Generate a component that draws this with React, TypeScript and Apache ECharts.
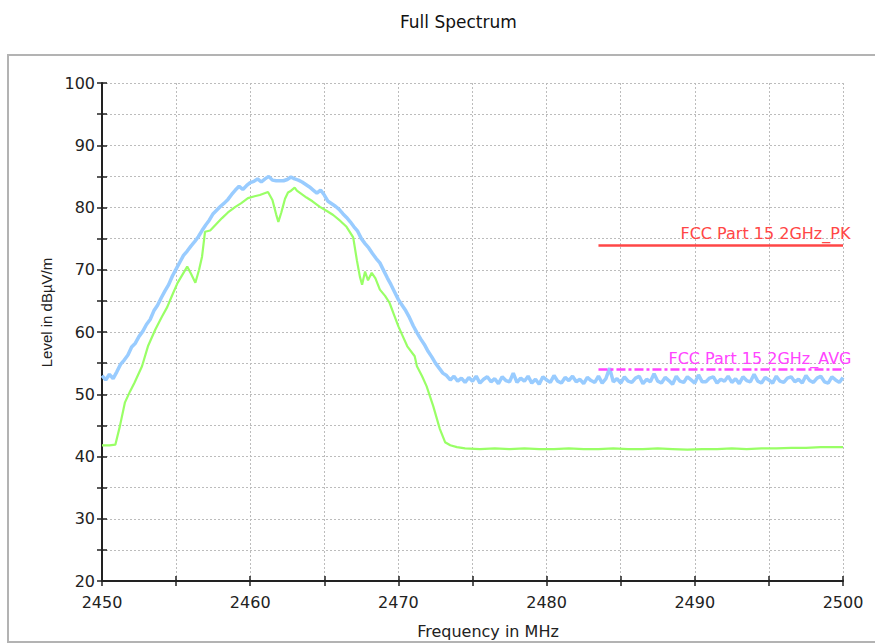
import React, { useEffect, useRef } from "react";
import * as echarts from "echarts";

const chartTitle = "Full Spectrum";
const xAxisTitle = "Frequency in MHz";
const yAxisTitle = "Level in dB\u00b5V/m";

const freqMin = 2450;
const freqMax = 2500;
const levelMin = 20;
const levelMax = 100;

// Peak trace (blue), sweep starting at 2450 MHz with a 0.25 MHz step
const blueStart = 2450;
const blueStep = 0.25;
const blueLevels = [
  53.0, 52.3, 53.2, 52.5, 53.6, 54.8, 55.5, 56.3, 57.6, 58.2,
  59.3, 60.1, 61.2, 62.0, 63.4, 64.3, 65.5, 66.6, 67.6, 69.0,
  70.1, 71.2, 72.3, 73.0, 73.8, 74.5, 75.3, 76.3, 77.2, 78.0,
  79.0, 79.6, 80.2, 80.7, 81.3, 82.1, 82.8, 83.4, 82.9, 83.5,
  84.0, 84.2, 84.6, 84.1, 84.6, 85.0, 84.4, 84.3, 84.3, 84.3,
  84.5, 84.9, 84.6, 84.4, 84.1, 83.7, 83.3, 82.8, 82.3, 82.8,
  82.0, 81.0, 80.6, 80.2, 79.7, 79.0, 78.4, 77.7, 76.9, 76.2,
  75.0, 74.2, 73.5, 72.6, 71.8, 71.1, 69.9, 68.7, 67.6, 66.4,
  65.2, 64.3, 63.4, 62.3, 61.0, 59.9, 58.9, 58.0, 56.9, 56.0,
  55.0, 54.2, 53.4, 53.0, 52.3, 52.9, 52.1,
  52.6, 51.9, 52.7, 52.1, 52.9, 51.8, 52.4, 52.8, 52.0, 52.5,
  51.7, 52.8, 52.2, 52.0, 53.4, 51.9, 52.6, 52.1, 52.9, 51.8,
  52.4, 51.6, 52.8, 52.3, 51.9, 53.0, 52.1, 51.8, 52.7, 52.2,
  52.9, 52.0, 52.4, 51.7, 52.7, 52.2, 51.9, 52.9, 51.8, 52.5,
  54.2, 52.0, 52.5, 51.8, 52.8, 52.1, 51.9, 52.6, 52.9, 51.7,
  52.4, 52.0, 53.3, 52.1, 51.8, 52.7, 52.2, 51.6, 52.9, 52.1,
  51.9, 52.8, 52.3, 51.8, 53.1, 52.0, 52.0, 52.6, 52.8, 51.8,
  52.4, 52.1, 52.9, 51.9, 52.5, 51.7, 52.8, 52.2, 52.0, 53.2,
  52.1, 51.8, 52.7, 52.3, 51.8, 52.9, 52.1, 51.9, 52.6, 52.8,
  52.0, 52.4, 51.8, 53.0, 52.2, 51.9, 52.6, 52.9, 52.0, 51.8,
  52.8, 52.3, 51.9, 52.7,
];

// Average trace (green)
const greenFreq = [
  2450, 2450.5, 2450.9, 2451.2, 2451.55, 2451.9, 2452.2, 2452.7, 2453.1, 2453.6,
  2454.05, 2454.4, 2454.7, 2455.1, 2455.45, 2455.75, 2456.0, 2456.3, 2456.55, 2456.75,
  2456.95, 2457.3, 2457.7, 2458.1, 2458.5, 2459.0, 2459.4, 2459.85, 2460.3, 2460.65,
  2461.2, 2461.5, 2461.75, 2461.9, 2462.1, 2462.35, 2462.55, 2462.7, 2463.0, 2463.15,
  2463.8, 2464.2, 2464.7, 2465.2, 2465.6, 2466.1, 2466.5, 2466.95, 2467.2, 2467.4,
  2467.55, 2467.75, 2467.95, 2468.2, 2468.45, 2468.75, 2469.1, 2469.4, 2469.7, 2470.0,
  2470.3, 2470.6, 2471.1, 2471.25, 2471.6, 2471.9, 2472.35, 2472.8, 2473.15, 2473.5,
  2473.95, 2474.5, 2475.5, 2476.5, 2477.5, 2478.5, 2479.5, 2480.5, 2481.5, 2482.5,
  2483.5, 2484.5, 2485.5, 2486.5, 2487.5, 2488.5, 2489.5, 2490.5, 2491.5, 2492.5,
  2493.5, 2494.5, 2495.5, 2496.5, 2497.5, 2498.5, 2499.5, 2500,
];
const greenLevels = [
  41.8, 41.8, 41.9, 44.8, 48.7, 50.5, 51.9, 54.5, 57.7, 60.4,
  62.5, 64.0, 65.7, 67.9, 69.3, 70.5, 69.4, 67.9, 70.0, 72.1,
  76.1, 76.3, 77.3, 78.3, 79.2, 80.1, 80.7, 81.5, 81.8, 82.0,
  82.5, 81.2, 78.9, 77.7, 79.2, 81.4, 82.4, 82.6, 83.2, 82.7,
  81.6, 81.0, 80.1, 79.4, 78.8, 77.8, 76.9, 75.2, 71.5, 68.9,
  67.6, 69.7, 68.3, 69.5, 68.6, 66.8, 65.8, 64.7, 62.8, 60.9,
  59.3, 57.7, 56.1, 54.5, 52.9, 51.3, 48.1, 44.4, 42.3, 41.8,
  41.5, 41.3, 41.2, 41.3, 41.2, 41.3, 41.2, 41.2, 41.3, 41.2,
  41.2, 41.3, 41.2, 41.2, 41.3, 41.2, 41.1, 41.2, 41.2, 41.3,
  41.2, 41.3, 41.3, 41.4, 41.4, 41.5, 41.5, 41.5,
];

// Limit lines
const limitNames = ["FCC Part 15 2GHz_PK", "FCC Part 15 2GHz_AVG"];
const limitLevels = [74, 54];
const limitStart = [2483.5, 2483.5];
const limitEnd = [2500, 2500];

const FONT = "DejaVu Sans";
const AX = "#222222";
const GRID = "#bcbcbc";

export default function App() {
  const ref = useRef<HTMLDivElement>(null);

  useEffect(() => {
    if (!ref.current) return;
    const chart = echarts.init(ref.current, undefined, { renderer: "svg" });

    const blueData = blueLevels.map((v, i) => [blueStart + i * blueStep, v]);
    const greenData = greenFreq.map((f, i) => [f, greenLevels[i]]);

    const gridLine = { show: true, lineStyle: { color: GRID, type: [2, 2], width: 1 } };

    const mainAxis = (min: number, max: number, isX: boolean) => ({
      type: "value",
      min,
      max,
      interval: 10,
      position: isX ? "bottom" : "left",
      axisLine: { show: true, onZero: false, lineStyle: { color: AX, width: 2 } },
      axisTick: { show: true, inside: false, length: 5, lineStyle: { color: AX, width: 1.5 } },
      minorTick: { show: true, splitNumber: 2, length: 5, lineStyle: { color: AX, width: 1.5 } },
      axisLabel: {
        margin: isX ? 13 : 7,
        fontFamily: FONT,
        fontSize: 16,
        color: AX,
        formatter: (v: number) => String(v),
      },
      splitLine: gridLine,
      minorSplitLine: gridLine,
    });

    const innerAxis = (min: number, max: number, isX: boolean) => ({
      type: "value",
      min,
      max,
      interval: 10,
      position: isX ? "bottom" : "left",
      axisLine: { show: false, onZero: false },
      axisTick: { show: true, inside: true, length: 5, lineStyle: { color: AX, width: 1.5 } },
      minorTick: { show: true, splitNumber: 2, length: 5, lineStyle: { color: AX, width: 1.5 } },
      axisLabel: { show: false },
      splitLine: { show: false },
    });

    const limitColors = ["#ff4646", "#ff44ff"];
    const limitDash: any[] = ["solid", [9, 3, 3, 3]];
    const labelShift = [82, 70];

    const limitSeries = limitNames.map((name, k) => ({
      type: "line",
      name,
      data: [],
      xAxisIndex: 0,
      yAxisIndex: 0,
      markLine: {
        silent: true,
        symbol: "none",
        animation: false,
        lineStyle: { color: limitColors[k], width: 2.5, type: limitDash[k] },
        label: {
          show: true,
          position: "insideStartTop",
          distance: [labelShift[k], 3],
          formatter: name,
          color: limitColors[k],
          fontFamily: FONT,
          fontSize: 16,
        },
        data: [
          [
            { coord: [limitStart[k], limitLevels[k]] },
            { coord: [limitEnd[k], limitLevels[k]] },
          ],
        ],
      },
    }));

    chart.setOption({
      animation: false,
      title: {
        text: chartTitle,
        left: 395,
        top: 8,
        textStyle: { fontFamily: FONT, fontSize: 17, fontWeight: "normal", color: "#111" },
      },
      graphic: [
        {
          type: "rect",
          z: -10,
          silent: true,
          shape: { x: 8, y: 55, width: 920, height: 587 },
          style: { fill: "#ffffff", stroke: "#b3b3b3", lineWidth: 2 },
        },
      ],
      grid: { left: 102, right: 32, top: 83, bottom: 62, containLabel: false },
      xAxis: [
        {
          ...mainAxis(freqMin, freqMax, true),
          name: xAxisTitle,
          nameLocation: "middle",
          nameGap: 42,
          nameTextStyle: { fontFamily: FONT, fontSize: 16, color: AX, padding: [0, 0, 0, 31] },
        },
        innerAxis(freqMin, freqMax, true),
      ],
      yAxis: [
        {
          ...mainAxis(levelMin, levelMax, false),
          name: yAxisTitle,
          nameLocation: "middle",
          nameGap: 45,
          nameRotate: 90,
          nameTextStyle: {
            fontFamily: "Liberation Sans Narrow, Liberation Sans",
            fontSize: 15,
            color: AX,
            padding: [0, 0, 0, 39],
          },
        },
        innerAxis(levelMin, levelMax, false),
      ],
      series: [
        {
          type: "line",
          name: "Peak",
          data: blueData,
          showSymbol: false,
          symbol: "none",
          lineStyle: { color: "#99ccff", width: 3.5 },
          z: 3,
        },
        {
          type: "line",
          name: "Average",
          data: greenData,
          showSymbol: false,
          symbol: "none",
          lineStyle: { color: "#99ff66", width: 2.2 },
          z: 4,
        },
        ...limitSeries,
      ],
    });

    return () => chart.dispose();
  }, []);

  return (
    <div
      ref={ref}
      style={{ position: "fixed", left: 0, top: 0, width: 875, height: 644, background: "#fff" }}
    />
  );
}
